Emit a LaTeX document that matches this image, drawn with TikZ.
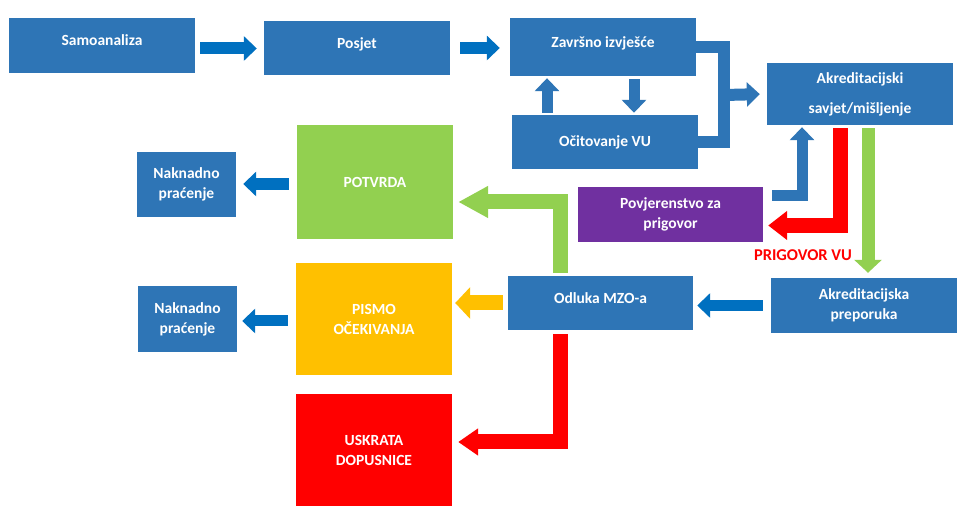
\documentclass[tikz,border=0pt]{standalone}
\usepackage{fontspec}
\setmainfont{Carlito}
\usetikzlibrary{arrows.meta}

\begin{document}
\begin{tikzpicture}[x=1pt,y=1pt,
  box/.style={fill=#1,text=white,inner sep=0pt,align=center,
    font=\bfseries\fontsize{15.5}{20}\selectfont},
  lifted/.style={text depth=10pt},
  flow/.style={draw=#1,line width=12pt,line join=miter,
    -{Triangle[width=24pt,length=13pt]}},
  pipe/.style={draw=#1,line width=12pt,line join=miter}]
\definecolor{fillColor}{RGB}{255,255,255}
\definecolor{boxBlue}{RGB}{46,117,182}
\definecolor{arrowBlue}{RGB}{0,112,192}
\definecolor{okGreen}{RGB}{146,208,80}
\definecolor{warnYellow}{RGB}{255,192,0}
\definecolor{denyRed}{RGB}{255,0,0}
\definecolor{appealPurple}{RGB}{112,48,160}
\path[use as bounding box,fill=fillColor] (0,0) rectangle (969,524);

\node[box=boxBlue,lifted,minimum width=186pt,minimum height=55pt] (sam) at (102,478.5) {Samoanaliza};

\node[box=boxBlue,lifted,minimum width=186pt,minimum height=54pt] (pos) at (357,476) {Posjet};

\node[box=boxBlue,lifted,minimum width=186pt,minimum height=58pt] (zav) at (603,477) {Završno izvješće};

\node[box=boxBlue,minimum width=186pt,minimum height=54pt] (oci) at (605,382) {Očitovanje VU};

\node[box=boxBlue,minimum width=186pt,minimum height=62pt] (akr) at (860,430) {Akreditacijski\\[10pt]savjet/mišljenje};

\node[box=appealPurple,minimum width=185pt,minimum height=55pt] (pov) at (670.5,309.5) {Povjerenstvo za\\prigovor};

\node[box=boxBlue,minimum width=99pt,minimum height=65pt] (nak1) at (186.5,339.5) {Naknadno\\praćenje};

\node[box=okGreen,minimum width=156pt,minimum height=114pt] (pot) at (375,342) {POTVRDA};

\node[box=boxBlue,minimum width=99pt,minimum height=66pt] (nak2) at (187.5,205) {Naknadno\\praćenje};

\node[box=warnYellow,minimum width=156pt,minimum height=112pt] (pis) at (374,205) {PISMO\\OČEKIVANJA};

\node[box=denyRed,minimum width=156pt,minimum height=112pt] (usk) at (374,74) {USKRATA\\DOPUSNICE};

\node[box=boxBlue,lifted,minimum width=185pt,minimum height=54pt] (odl) at (600.5,221) {Odluka MZO-a};

\node[box=boxBlue,minimum width=186pt,minimum height=55pt] (pre) at (864,218.5) {Akreditacijska\\preporuka};

\node[text=denyRed,font=\bfseries\fontsize{16.5}{20}\selectfont,inner sep=0pt] (prig) at (803,269) {PRIGOVOR VU};

\coordinate (join) at (724,429);

\draw[flow=arrowBlue,shorten <=5pt,shorten >=7pt] ([yshift=-3pt]sam.east) -- ([yshift=-3pt]sam.east -| pos.west);

\draw[flow=arrowBlue,shorten <=10pt,shorten >=10pt] (pos.east) -- (pos.east -| zav.west);

\draw[pipe=boxBlue] (zav.east) -| (join) |- (oci.east);

\draw[flow=boxBlue,shorten >=7pt] (join) -- (akr.west);

\draw[flow=boxBlue,line width=11pt,shorten <=2pt,shorten >=2pt] ([xshift=-58pt]oci.north) -- ([xshift=-58pt]oci.north |- zav.south);

\draw[flow=boxBlue,line width=11pt,shorten <=3pt,shorten >=2pt] ([xshift=31pt]zav.south) -- ([xshift=31pt]zav.south |- oci.north);

\draw[flow=boxBlue,line width=11pt,shorten >=2pt] ([xshift=9pt,yshift=18.5pt]pov.east) -| ([xshift=-58pt]akr.south);

\draw[draw=denyRed,line width=15pt,line join=miter,-{Triangle[width=28pt,length=19pt]},shorten <=3pt,shorten >=5pt] ([xshift=-20pt]akr.south) |- ([yshift=-11pt]pov.east);

\draw[draw=okGreen,line width=13pt,-{Triangle[width=27pt,length=13pt]},shorten <=3pt,shorten >=5pt] ([xshift=8pt]akr.south) -- ([xshift=8pt]akr.south |- pre.north);

\draw[draw=okGreen,line width=15pt,line join=miter,-{Triangle[width=30pt,length=30pt]},shorten <=3pt,shorten >=5pt] ([xshift=-40.5pt]odl.north) |- ([yshift=-20pt]pot.east);

\draw[draw=warnYellow,line width=15pt,-{Triangle[width=31pt,length=15pt]},shorten <=5pt,shorten >=3pt] (odl.west) -- (odl.west -| pis.east);

\draw[draw=denyRed,line width=15pt,line join=miter,-{Triangle[width=26pt,length=20pt]},shorten <=4pt,shorten >=6pt] ([xshift=-40.5pt]odl.south) |- ([yshift=8pt]usk.east);

\draw[flow=arrowBlue,line width=11pt,shorten <=8pt,shorten >=4pt] (pre.west) -- (pre.west -| odl.east);

\draw[flow=arrowBlue,shorten <=8pt,shorten >=7pt] ([yshift=-2pt]pot.west) -- ([yshift=-2pt]pot.west -| nak1.east);

\draw[flow=arrowBlue,line width=11pt,shorten <=8pt,shorten >=5pt] ([yshift=-2pt]pis.west) -- ([yshift=-2pt]pis.west -| nak2.east);
\end{tikzpicture}
\end{document}
